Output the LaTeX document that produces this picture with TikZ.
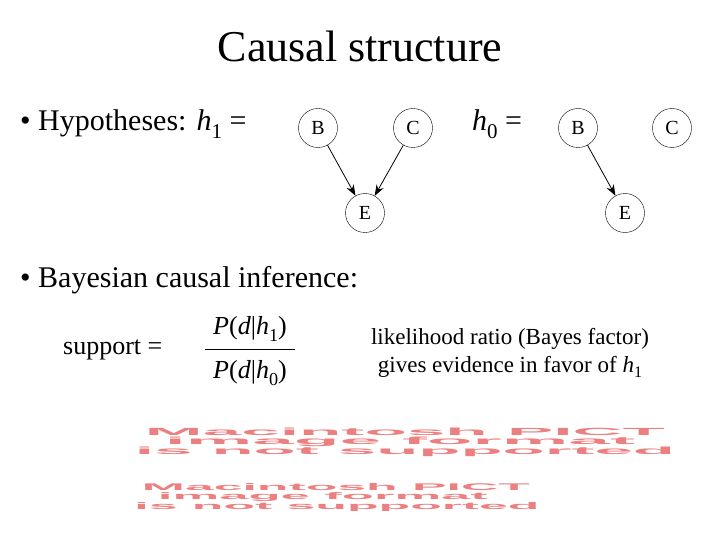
\documentclass[tikz,border=0pt]{standalone}
\usepackage{fontspec}
\setmainfont{Liberation Serif}
\newfontfamily\pictfont{Liberation Sans}
\usepackage{graphicx}
\usetikzlibrary{arrows.meta}
\definecolor{pict}{RGB}{236,128,128}
\newcommand{\hv}[1]{\textit{h}\raisebox{-0.25em}{\scalebox{0.7}{#1}}}
\newcommand{\Pd}[1]{\textit{P}(\textit{d}|\hv{#1})}
\begin{document}
\begin{tikzpicture}[x=1pt,y=-1pt,
  v/.style={circle,draw,minimum size=39pt,inner sep=0pt,font=\fontsize{20}{24}\selectfont},
  arr/.style={-{Stealth[length=11pt,width=8pt]},thick},
  txt/.style={anchor=west,inner sep=0pt,font=\fontsize{30}{34}\selectfont},
  pl/.style={text=pict,inner sep=0pt,font=\pictfont\bfseries}]
\useasboundingbox (0,0) rectangle (720,540);
\node[inner sep=0pt,font=\fontsize{44}{48}\selectfont] (title) at (360,46) {Causal structure};
\node[txt] (hyp) at (20,124) {\textbullet\ Hypotheses: \hv{1} =};
\node[v] (b1) at (318,128) {B};
\node[v] (c1) at (413,128) {C};
\node[v] (e1) at (365,213) {E};
\draw[arr] (b1) -- (e1);
\draw[arr] (c1) -- (e1);
\node[txt] (h0) at (472,124) {\hv{0} =};
\node[v] (b2) at (578,128) {B};
\node[v] (c2) at (672,128) {C};
\node[v] (e2) at (625,213) {E};
\draw[arr] (b2) -- (e2);
\node[txt] (bay) at (20,280) {\textbullet\ Bayesian causal inference:};
\node[txt,font=\fontsize{26}{28}\selectfont] (sup) at (63,350) {support =};
\node[inner sep=0pt,font=\fontsize{26}{28}\selectfont] (num) at (250,329) {\Pd{1}};
\node[inner sep=0pt,font=\fontsize{26}{28}\selectfont] (den) at (250,373) {\Pd{0}};
\draw (205,349) -- (295,349);
\node[inner sep=0pt,align=center,font=\fontsize{23}{28}\selectfont] (lr) at (510,353) {likelihood ratio (Bayes factor)\\gives evidence in favor of \hv{1}};
\node[pl] (p1) at (405,432) {\resizebox{520pt}{7.5pt}{Macintosh PICT}};
\node[pl] (p2) at (400,442) {\resizebox{470pt}{7.5pt}{image format}};
\node[pl] (p3) at (405,452) {\resizebox{540pt}{7.5pt}{is not supported}};
\node[pl] (q1) at (336,487) {\resizebox{388pt}{7pt}{Macintosh PICT}};
\node[pl] (q2) at (323,497) {\resizebox{330pt}{7pt}{image format}};
\node[pl] (q3) at (337,507) {\resizebox{405pt}{7pt}{is not supported}};
\end{tikzpicture}
\end{document}
